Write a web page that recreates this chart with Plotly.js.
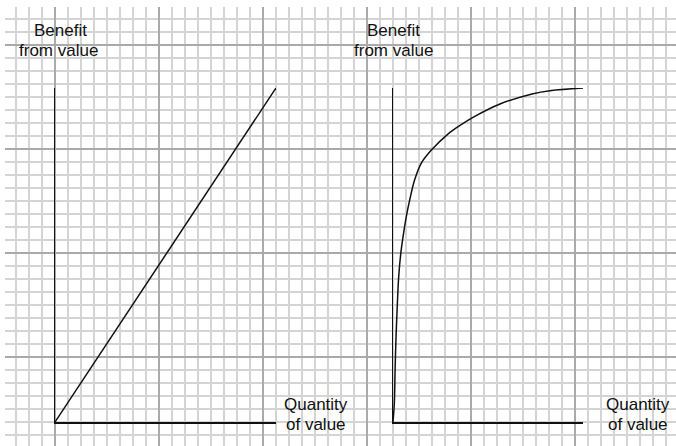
<!DOCTYPE html>
<html>
<head>
<meta charset="utf-8">
<script src="https://cdn.plot.ly/plotly-3.0.1.min.js"></script>
<style>html,body{margin:0;padding:0;background:#fff}#chart{width:676px;height:446px}</style>
</head>
<body>
<div id="chart"></div>
<script>
// Left chart: linear benefit (quantity 0..100, benefit 0..100)
var linearQuantity = [0, 100];
var linearBenefit = [0, 100];

// Right chart: diminishing-returns benefit curve
var curveQuantity = [0, 0.7, 1.1, 1.6, 2.3, 3.0, 4.1, 5.3, 7.0, 8.8, 11.4, 14.9, 20.2, 28.9, 35.3, 42.1, 56.3, 73.7, 82.6, 100];
var curveBenefit  = [0, 5.6, 15.6, 25.5, 35.5, 43.5, 50.5, 55.5, 61.5, 66.5, 72.5, 77.5, 81.4, 86.2, 88.8, 91.2, 95.2, 98.3, 99.2, 100];

var yLabelLines = ['Benefit', 'from value'];
var xLabelLines = ['Quantity', 'of value'];

var font = {family: 'Liberation Sans, Arial, Helvetica, sans-serif', size: 17, color: '#111'};

var traces = [
  {x: [], y: [], xaxis: 'x', yaxis: 'y', type: 'scatter', mode: 'lines', hoverinfo: 'skip', showlegend: false},
  {x: linearQuantity, y: linearBenefit, xaxis: 'x2', yaxis: 'y2', type: 'scatter', mode: 'lines',
   line: {color: '#111', width: 1.5}, hoverinfo: 'skip', showlegend: false},
  {x: curveQuantity, y: curveBenefit, xaxis: 'x3', yaxis: 'y3', type: 'scatter', mode: 'lines',
   line: {color: '#111', width: 1.5, shape: 'spline', smoothing: 1}, hoverinfo: 'skip', showlegend: false}
];

function gridAxis(range, tick0) {
  return {
    range: range, domain: [0, 1], tick0: tick0, dtick: 104, showgrid: true, gridcolor: '#aaaaaa', gridwidth: 1.2,
    minor: {tick0: tick0, dtick: 13, showgrid: true, gridcolor: '#d4d4d4', gridwidth: 1.2},
    showticklabels: false, ticks: '', zeroline: false, showline: false, fixedrange: true
  };
}
function chartAxis(domain, anchor) {
  return {
    domain: domain, range: [0, 100], anchor: anchor, showgrid: false, zeroline: false,
    showticklabels: false, ticks: '', showline: true, linecolor: '#111', linewidth: 1.5, fixedrange: true
  };
}

var W = 671, H = 439; // plot area size in px (page minus margins)
function px(v) { return (v - 5) / W; }
function py(v) { return (446 - v) / H; }

var layout = {
  width: 676, height: 446,
  margin: {l: 5, r: 0, t: 7, b: 0, pad: 0},
  paper_bgcolor: '#ffffff', plot_bgcolor: 'rgba(0,0,0,0)',
  showlegend: false,
  xaxis: gridAxis([5, 676], 55),
  yaxis: gridAxis([446, 7], 45),
  xaxis2: chartAxis([px(55), px(276)], 'y2'),
  yaxis2: chartAxis([py(422), py(88)], 'x2'),
  xaxis3: chartAxis([px(393), px(583)], 'y3'),
  yaxis3: chartAxis([py(422), py(88)], 'x3'),
  annotations: [
    {text: yLabelLines[0], x: 60, y: 30, xref: 'x', yref: 'y', showarrow: false, font: font, xanchor: 'center', yanchor: 'middle'},
    {text: yLabelLines[1], x: 58, y: 50, xref: 'x', yref: 'y', showarrow: false, font: font, xanchor: 'center', yanchor: 'middle'},
    {text: yLabelLines[0], x: 393, y: 30, xref: 'x', yref: 'y', showarrow: false, font: font, xanchor: 'center', yanchor: 'middle'},
    {text: yLabelLines[1], x: 393, y: 50, xref: 'x', yref: 'y', showarrow: false, font: font, xanchor: 'center', yanchor: 'middle'},
    {text: xLabelLines[0], x: 316, y: 404, xref: 'x', yref: 'y', showarrow: false, font: font, xanchor: 'center', yanchor: 'middle'},
    {text: xLabelLines[1], x: 316, y: 424, xref: 'x', yref: 'y', showarrow: false, font: font, xanchor: 'center', yanchor: 'middle'},
    {text: xLabelLines[0], x: 638, y: 404, xref: 'x', yref: 'y', showarrow: false, font: font, xanchor: 'center', yanchor: 'middle'},
    {text: xLabelLines[1], x: 638, y: 424, xref: 'x', yref: 'y', showarrow: false, font: font, xanchor: 'center', yanchor: 'middle'}
  ]
};

Plotly.newPlot('chart', traces, layout, {staticPlot: true, displayModeBar: false});
</script>
</body>
</html>
